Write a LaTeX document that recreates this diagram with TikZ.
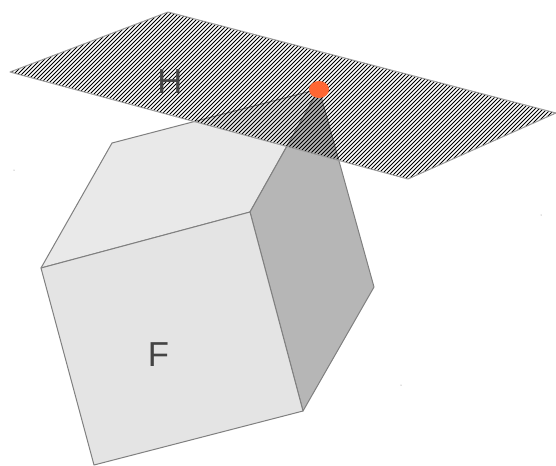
\documentclass[tikz,border=0pt]{standalone}
\usepackage{fontspec}
\setmainfont{Liberation Sans}
\definecolor{edgeg}{HTML}{808080}
\definecolor{topf}{HTML}{E9E9E9}
\definecolor{frontf}{HTML}{E4E4E4}
\definecolor{sidef}{HTML}{B6B6B6}
\definecolor{dotc}{HTML}{FF6633}
\definecolor{txt}{HTML}{444444}
\tikzset{
  x=0.75pt,y=-0.75pt,
  face/.style={draw=edgeg,line width=0.75pt,line join=round},
  lab/.style={text=txt,font=\fontsize{26}{30}\selectfont,inner sep=0pt}
}
\begin{document}
\begin{tikzpicture}
\useasboundingbox (0,0) rectangle (556,465);
\coordinate (A) at (41,268);
\coordinate (B) at (112,143);
\coordinate (C) at (319,89);
\coordinate (D) at (250,212);
\coordinate (E) at (374,287);
\coordinate (G) at (303,411);
\coordinate (K) at (94,465);
\coordinate (P1) at (10,72);
\coordinate (P2) at (168,12);
\coordinate (P3) at (556,113);
\coordinate (P4) at (408,179);
\fill[white] (0,0) rectangle (556,465);
\draw[face,fill=topf] (A) -- (B) -- (C) -- (D) -- cycle;
\draw[face,fill=sidef] (D) -- (C) -- (E) -- (G) -- cycle;
\draw[face,fill=frontf] (A) -- (D) -- (G) -- (K) -- cycle;
\begin{scope}
\clip (P1) -- (P2) -- (P3) -- (P4) -- cycle;
\foreach \i in {0,...,215}{
  \draw[black,line width=0.7pt] ({\i*4-200},200) -- ++(220,-220);
}
\end{scope}
\draw[draw=edgeg!80,line width=0.75pt,line join=round] (P1) -- (P2) -- (P3) -- (P4) -- cycle;
\node[lab] (h) at (170,82) {H};
\node[lab] (f) at (158.5,355) {F};
\fill[dotc] (319,89.5) ellipse (10 and 8.5);
\fill[edgeg] (14,170) circle (0.5) (541,215) circle (0.5) (401,385) circle (0.5);
\end{tikzpicture}
\end{document}
